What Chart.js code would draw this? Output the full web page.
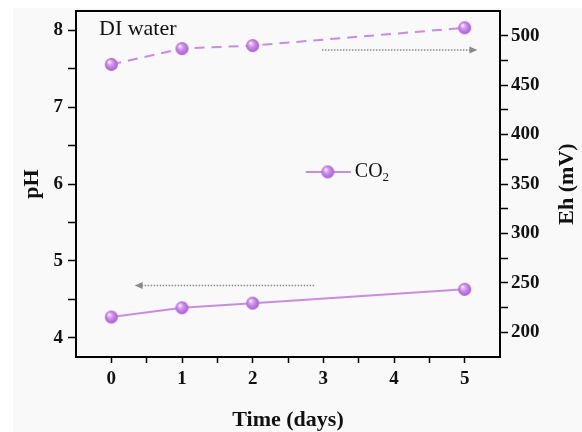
<!DOCTYPE html>
<html>
<head>
<meta charset="utf-8">
<script src="https://cdn.jsdelivr.net/npm/chart.js@4.4.1/dist/chart.umd.min.js"></script>
<style>
  html, body { margin: 0; padding: 0; background: #ffffff; }
  canvas { display: block; }
</style>
</head>
<body>
<canvas id="chart1" width="582" height="432"></canvas>
<script>
// valores
const days = [0, 1, 2, 5];
const phValues = [4.27, 4.39, 4.45, 4.63];
const ehValues = [471, 487, 490, 508];

// ticks (mayores con etiqueta, menores sin ella)
const dayTicks = [0, 0.5, 1, 1.5, 2, 2.5, 3, 3.5, 4, 4.5, 5];
const dayLabels = [0, 1, 2, 3, 4, 5];
const phTicks = [4, 4.5, 5, 5.5, 6, 6.5, 7, 7.5, 8];
const phLabels = [4, 5, 6, 7, 8];
const ehTicks = [200, 225, 250, 275, 300, 325, 350, 375, 400, 425, 450, 475, 500];
const ehLabels = [200, 250, 300, 350, 400, 450, 500];

// flechas (en unidades de datos)
const phArrowX = [2.87, 0.33];
const phArrowY = 4.68;
const ehArrowX = [2.98, 5.18];
const ehArrowY = 485.5;

const lineColor = '#c98be9';
const serif = "'Liberation Serif', 'Times New Roman', serif";

function makeBall(r) {
    const c = document.createElement('canvas');
    c.width = c.height = Math.ceil(2 * r + 2);
    const g = c.getContext('2d');
    const cx = c.width / 2, cy = c.height / 2;
    const grad = g.createRadialGradient(cx - r * 0.35, cy - r * 0.4, r * 0.1, cx, cy, r);
    grad.addColorStop(0, '#f6e6fd');
    grad.addColorStop(0.35, '#d496f2');
    grad.addColorStop(1, '#a65ccf');
    g.fillStyle = grad;
    g.beginPath();
    g.arc(cx, cy, r, 0, Math.PI * 2);
    g.fill();
    return c;
}
const ball = makeBall(6.5);

function setTicks(list) {
    return scale => { scale.ticks = list.map(v => ({ value: v })); };
}
function labelIf(list) {
    return v => list.includes(v) ? String(v) : '';
}
// ancho/alto fijo y sin relleno extra para que el area quede donde en la original
function fitY(w) {
    return s => { s.width = w; s.paddingTop = 0; s.paddingBottom = 0; };
}

function arrow(ctx, x0, x1, y) {
    ctx.save();
    ctx.strokeStyle = '#8a8a8a';
    ctx.fillStyle = '#8a8a8a';
    ctx.lineWidth = 1.5;
    ctx.setLineDash([1.5, 1.5]);
    const dir = x1 > x0 ? 1 : -1;
    ctx.beginPath();
    ctx.moveTo(x0, y);
    ctx.lineTo(x1 - dir * 7, y);
    ctx.stroke();
    ctx.setLineDash([]);
    ctx.beginPath();
    ctx.moveTo(x1, y);
    ctx.lineTo(x1 - dir * 8, y - 3.5);
    ctx.lineTo(x1 - dir * 8, y + 3.5);
    ctx.closePath();
    ctx.fill();
    ctx.restore();
}

const extras = {
    id: 'extras',
    beforeDraw(chart) {
        const ctx = chart.ctx;
        ctx.save();
        ctx.fillStyle = '#ffffff';
        ctx.fillRect(0, 0, chart.width, chart.height);
        ctx.fillStyle = '#f9f9f9';
        ctx.fillRect(13, 8, chart.width - 13, chart.height - 8);
        ctx.restore();
    },
    afterDraw(chart) {
        const ctx = chart.ctx;
        const a = chart.chartArea;
        const sx = chart.scales.x, sy = chart.scales.y, sy1 = chart.scales.y1;

        // marco superior
        ctx.save();
        ctx.strokeStyle = '#000';
        ctx.lineWidth = 2;
        ctx.beginPath();
        ctx.moveTo(a.left - 1, a.top);
        ctx.lineTo(a.right + 1, a.top);
        ctx.stroke();
        ctx.restore();

        arrow(ctx, sx.getPixelForValue(phArrowX[0]), sx.getPixelForValue(phArrowX[1]), sy.getPixelForValue(phArrowY));
        arrow(ctx, sx.getPixelForValue(ehArrowX[0]), sx.getPixelForValue(ehArrowX[1]), sy1.getPixelForValue(ehArrowY));

        ctx.save();
        ctx.fillStyle = '#111';
        ctx.textBaseline = 'middle';
        ctx.font = '22px ' + serif;
        ctx.fillText('DI water', a.left + 23, a.top + 18);

        // leyenda
        const lx = a.left + 0.542 * a.width;
        const ly = a.top + 0.465 * a.height;
        ctx.strokeStyle = lineColor;
        ctx.lineWidth = 2;
        ctx.beginPath();
        ctx.moveTo(lx, ly);
        ctx.lineTo(lx + 45, ly);
        ctx.stroke();
        ctx.drawImage(ball, lx + 22 - ball.width / 2, ly - ball.height / 2);
        ctx.font = '20px ' + serif;
        ctx.fillText('CO', lx + 49, ly);
        const w = ctx.measureText('CO').width;
        ctx.font = '13px ' + serif;
        ctx.fillText('2', lx + 49 + w, ly + 6);

        // titulo eje derecho
        ctx.font = 'bold 22px ' + serif;
        ctx.textAlign = 'center';
        ctx.translate(567, (a.top + a.bottom) / 2);
        ctx.rotate(-Math.PI / 2);
        ctx.fillText('Eh (mV)', 0, 0);
        ctx.restore();
    }
};

const tickFont = { family: serif, size: 19, weight: 'bold' };

const config = {
    type: 'line',
    data: {
        datasets: [{
            label: 'CO2',
            data: days.map((d, i) => ({ x: d, y: phValues[i] })),
            yAxisID: 'y',
            borderColor: lineColor,
            borderWidth: 2,
            pointStyle: ball,
            tension: 0
        }, {
            label: 'Eh',
            data: days.map((d, i) => ({ x: d, y: ehValues[i] })),
            yAxisID: 'y1',
            borderColor: lineColor,
            borderWidth: 2,
            borderDash: [10, 7],
            pointStyle: ball,
            tension: 0
        }]
    },
    options: {
        responsive: false,
        animation: false,
        layout: { padding: { top: 11, left: 0, right: 0, bottom: 0 } },
        plugins: { legend: { display: false }, tooltip: { enabled: false } },
        scales: {
            x: {
                type: 'linear',
                position: 'bottom',
                min: -0.5,
                max: 5.5,
                afterBuildTicks: setTicks(dayTicks),
                afterFit: s => { s.height = 75; s.paddingLeft = 0; s.paddingRight = 0; },
                grid: { drawOnChartArea: false, tickLength: 6, tickColor: '#000', tickWidth: 1.5 },
                border: { display: true, color: '#000', width: 2 },
                ticks: { autoSkip: false, maxRotation: 0, color: '#111', font: tickFont, padding: 5, callback: labelIf(dayLabels) },
                title: { display: true, text: 'Time (days)', color: '#111',
                         font: { family: serif, size: 22, weight: 'bold', lineHeight: 1 }, padding: { top: 0, bottom: 1 } }
            },
            y: {
                type: 'linear',
                position: 'left',
                min: 3.75,
                max: 8.25,
                afterBuildTicks: setTicks(phTicks),
                afterFit: fitY(76),
                grid: { drawOnChartArea: false, tickLength: 8, tickColor: '#000', tickWidth: 1.5 },
                border: { display: true, color: '#000', width: 2 },
                ticks: { autoSkip: false, color: '#111', font: tickFont, padding: 5, callback: labelIf(phLabels) },
                title: { display: true, text: 'pH', color: '#111',
                         font: { family: serif, size: 22, weight: 'bold', lineHeight: 1 }, padding: { top: 21, bottom: 0 } }
            },
            y1: {
                type: 'linear',
                position: 'right',
                min: 175,
                max: 525,
                afterBuildTicks: setTicks(ehTicks),
                afterFit: fitY(82),
                grid: { drawOnChartArea: false, tickLength: 8, tickColor: '#000', tickWidth: 1.5 },
                border: { display: true, color: '#000', width: 2 },
                ticks: { autoSkip: false, color: '#111', font: tickFont, padding: 3, callback: labelIf(ehLabels) }
            }
        }
    },
    plugins: [extras]
};

window.myChart1 = new Chart(document.getElementById('chart1'), config);
</script>
</body>
</html>
